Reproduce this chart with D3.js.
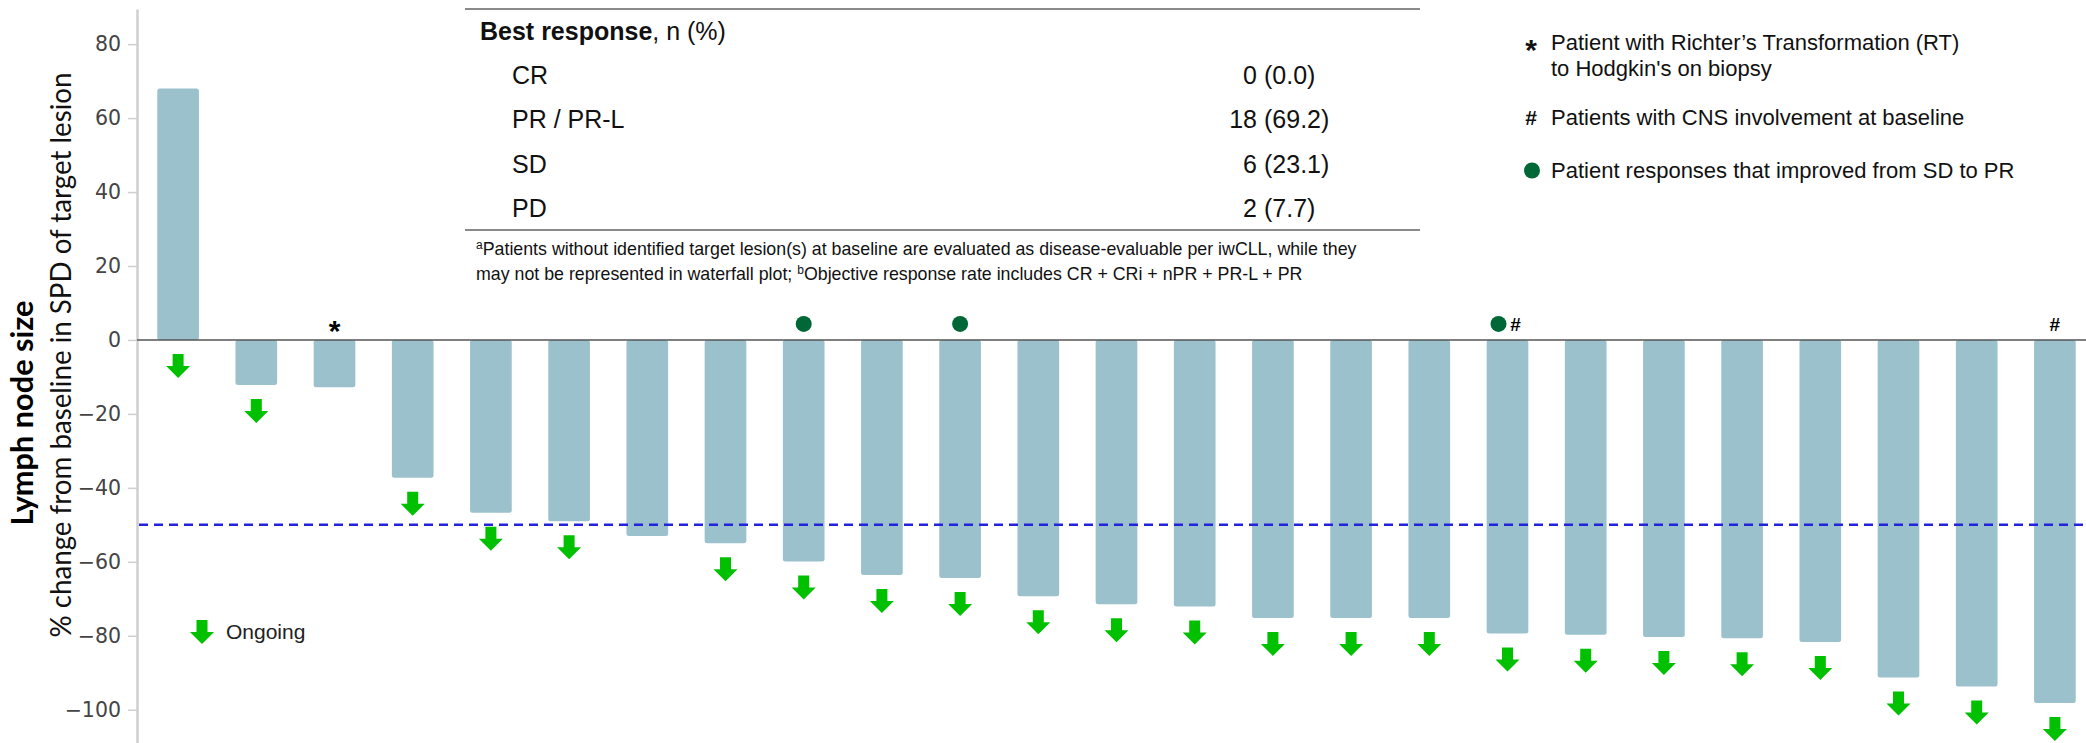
<!DOCTYPE html>
<html>
<head>
<meta charset="utf-8">
<script src="https://cdn.jsdelivr.net/npm/d3@7"></script>
<style>
body { margin: 0; background: #fff; }
svg { display: block; }
</style>
</head>
<body>
<script>
// svg size
var w = 2086, h = 743;

// one bar per patient, sorted as in the waterfall
var patients = ["1", "2", "3", "4", "5", "6", "7", "8", "9", "10", "11", "12", "13",
    "14", "15", "16", "17", "18", "19", "20", "21", "22", "23", "24", "25"];
var changePct = [68.0, -12.2, -12.8, -37.3, -46.7, -49.0, -53.0, -55.0, -59.9, -63.6,
    -64.4, -69.3, -71.5, -72.1, -75.2, -75.2, -75.2, -79.4, -79.7, -80.3,
    -80.7, -81.7, -91.3, -93.7, -98.2];
var ongoing = [1, 1, 0, 1, 1, 1, 0, 1, 1, 1, 1, 1, 1, 1, 1, 1, 1, 1, 1, 1, 1, 1, 1, 1, 1];

// markers above the zero line
var richterPts = ["3"];
var cnsPts = ["18", "25"];
var improvedPts = ["9", "11", "18"];

var yTicks = [80, 60, 40, 20, 0, -20, -40, -60, -80, -100];
var threshold = -50;

// response table
var responseCats = ["CR", "PR / PR-L", "SD", "PD"];
var responseN = [0, 18, 6, 2];
var responsePct = ["0.0", "69.2", "23.1", "7.7"];

var legendItems = [
    {mark: "*", lines: ["Patient with Richter\u2019s Transformation (RT)", "to Hodgkin's on biopsy"]},
    {mark: "#", lines: ["Patients with CNS involvement at baseline"]},
    {mark: "dot", lines: ["Patient responses that improved from SD to PR"]}
];

var bars = patients.map(function(p, i){
    return {id: p, v: changePct[i], ongoing: ongoing[i] === 1};
});

var svg = d3.select("body")
    .append("svg")
    .attr("width", w)
    .attr("height", h);

// scales
var x = d3.scaleBand()
    .domain(patients)
    .range([139, 2094])
    .paddingInner(0.467)
    .paddingOuter(0.2335);

var y = d3.scaleLinear()
    .domain([-109, 89.5])
    .range([743, 9]);

var axisX = 137;

// y axis
var yAxis = svg.append("g")
    .attr("transform", "translate(" + axisX + ",0)")
    .call(d3.axisLeft(y).tickValues(yTicks).tickSize(9).tickPadding(7).tickSizeOuter(0));
yAxis.select(".domain").attr("stroke", "#cfcfcf").attr("stroke-width", 2.5);
yAxis.selectAll(".tick line").attr("stroke", "#cfcfcf").attr("stroke-width", 1.5);
yAxis.selectAll(".tick text")
    .attr("fill", "#444")
    .style("font-family", "'DejaVu Sans', Verdana, sans-serif")
    .style("font-size", "20.5px");

// y axis title
svg.append("text")
    .attr("transform", "translate(33,413) rotate(-90)")
    .attr("text-anchor", "middle")
    .attr("textLength", 225)
    .attr("lengthAdjust", "spacingAndGlyphs")
    .style("font-family", "Lato, 'Open Sans', sans-serif")
    .style("font-weight", "bold")
    .style("font-size", "30px")
    .text("Lymph node size");

svg.append("text")
    .attr("transform", "translate(71,355) rotate(-90)")
    .attr("text-anchor", "middle")
    .attr("textLength", 565)
    .attr("lengthAdjust", "spacingAndGlyphs")
    .style("font-family", "Lato, 'Open Sans', sans-serif")
    .style("font-size", "28px")
    .attr("fill", "#111")
    .text("% change from baseline in SPD of target lesion");

// bars
svg.selectAll(".bar")
    .data(bars)
    .enter()
    .append("rect")
    .attr("class", "bar")
    .attr("x", function(d){ return x(d.id); })
    .attr("width", x.bandwidth())
    .attr("y", function(d){ return Math.min(y(d.v), y(0)); })
    .attr("height", function(d){ return Math.abs(y(d.v) - y(0)); })
    .attr("rx", 2.5)
    .attr("fill", "#9bc2cc");

// zero line
svg.append("line")
    .attr("x1", axisX).attr("x2", w)
    .attr("y1", y(0)).attr("y2", y(0))
    .attr("stroke", "#555")
    .attr("stroke-width", 1.5);

// -50% threshold
svg.append("line")
    .attr("x1", axisX + 2).attr("x2", w)
    .attr("y1", y(threshold)).attr("y2", y(threshold))
    .attr("stroke", "#2323dc")
    .attr("stroke-width", 2.5)
    .attr("stroke-dasharray", "9,6");

// down arrow shape
function arrowPath(cx, top){
    return "M" + (cx - 5.5) + "," + top +
        "L" + (cx + 5.5) + "," + top +
        "L" + (cx + 5.5) + "," + (top + 12) +
        "L" + (cx + 12) + "," + (top + 12) +
        "L" + cx + "," + (top + 24) +
        "L" + (cx - 12) + "," + (top + 12) +
        "L" + (cx - 5.5) + "," + (top + 12) + "Z";
}

svg.selectAll(".ongoing")
    .data(bars.filter(function(d){ return d.ongoing; }))
    .enter()
    .append("path")
    .attr("class", "ongoing")
    .attr("d", function(d){
        return arrowPath(x(d.id) + x.bandwidth() / 2, y(Math.min(d.v, 0)) + 14);
    })
    .attr("fill", "#00c000");

// markers
var markY = y(0) - 16;

svg.selectAll(".rt")
    .data(richterPts)
    .enter()
    .append("text")
    .attr("class", "rt")
    .attr("x", function(d){ return x(d) + x.bandwidth() / 2; })
    .attr("y", markY + 17.5)
    .attr("text-anchor", "middle")
    .style("font-family", "'Liberation Sans', Arial, sans-serif")
    .style("font-weight", "bold")
    .style("font-size", "30px")
    .text("*");

svg.selectAll(".improved")
    .data(improvedPts)
    .enter()
    .append("circle")
    .attr("class", "improved")
    .attr("cx", function(d){
        return x(d) + x.bandwidth() / 2 - (cnsPts.indexOf(d) >= 0 ? 9 : 0);
    })
    .attr("cy", markY)
    .attr("r", 8)
    .attr("fill", "#006837");

svg.selectAll(".cns")
    .data(cnsPts)
    .enter()
    .append("text")
    .attr("class", "cns")
    .attr("x", function(d){
        return x(d) + x.bandwidth() / 2 + (improvedPts.indexOf(d) >= 0 ? 8 : 0);
    })
    .attr("y", markY + 7)
    .attr("text-anchor", "middle")
    .style("font-family", "'Liberation Sans', Arial, sans-serif")
    .style("font-weight", "bold")
    .style("font-size", "19px")
    .text("#");

// ongoing legend
svg.append("path")
    .attr("d", arrowPath(202, 620))
    .attr("fill", "#00c000");
svg.append("text")
    .attr("x", 226)
    .attr("y", 639)
    .attr("fill", "#222")
    .style("font-family", "'Liberation Sans', Arial, sans-serif")
    .style("font-size", "21px")
    .text("Ongoing");

// response table
var table = svg.append("g")
    .style("font-family", "'Liberation Sans', Arial, sans-serif")
    .attr("fill", "#111");

table.selectAll(".rule")
    .data([9, 230])
    .enter()
    .append("line")
    .attr("class", "rule")
    .attr("x1", 465).attr("x2", 1420)
    .attr("y1", function(d){ return d; })
    .attr("y2", function(d){ return d; })
    .attr("stroke", "#8a8a8a")
    .attr("stroke-width", 2);

var head = table.append("text")
    .attr("x", 480)
    .attr("y", 40)
    .style("font-size", "25px");
head.append("tspan").style("font-weight", "bold").text("Best response");
head.append("tspan").text(", n (%)");

var rowY = d3.scalePoint().domain(responseCats).range([84, 217]);

table.selectAll(".cat")
    .data(responseCats)
    .enter()
    .append("text")
    .attr("class", "cat")
    .attr("x", 512)
    .attr("y", function(d){ return rowY(d); })
    .style("font-size", "25px")
    .text(function(d){ return d; });

table.selectAll(".nval")
    .data(responseCats)
    .enter()
    .append("text")
    .attr("class", "nval")
    .attr("x", 1257)
    .attr("y", function(d){ return rowY(d); })
    .attr("text-anchor", "end")
    .style("font-size", "25px")
    .text(function(d, i){ return responseN[i]; });

table.selectAll(".pval")
    .data(responseCats)
    .enter()
    .append("text")
    .attr("class", "pval")
    .attr("x", 1264)
    .attr("y", function(d){ return rowY(d); })
    .style("font-size", "25px")
    .text(function(d, i){ return "(" + responsePct[i] + ")"; });

// footnote
var foot1 = table.append("text").attr("x", 476).attr("y", 255).style("font-size", "17.8px");
foot1.append("tspan").attr("dy", -6).style("font-size", "12px").text("a");
foot1.append("tspan").attr("dy", 6)
    .text("Patients without identified target lesion(s) at baseline are evaluated as disease-evaluable per iwCLL, while they");

var foot2 = table.append("text").attr("x", 476).attr("y", 280).style("font-size", "17.8px");
foot2.append("tspan").text("may not be represented in waterfall plot; ");
foot2.append("tspan").attr("dy", -6).style("font-size", "12px").text("b");
foot2.append("tspan").attr("dy", 6)
    .text("Objective response rate includes CR + CRi + nPR + PR-L + PR");

// marker legend
var legendY = [50, 125, 178];
var legend = svg.append("g")
    .style("font-family", "'Liberation Sans', Arial, sans-serif")
    .attr("fill", "#111");

legendItems.forEach(function(item, i){
    var ly = legendY[i];
    if (item.mark === "dot") {
        legend.append("circle")
            .attr("cx", 1532).attr("cy", ly - 7.5)
            .attr("r", 8).attr("fill", "#006837");
    } else if (item.mark === "*") {
        legend.append("text")
            .attr("x", 1531).attr("y", ly + 10)
            .attr("text-anchor", "middle")
            .style("font-weight", "bold").style("font-size", "30px")
            .text("*");
    } else {
        legend.append("text")
            .attr("x", 1531).attr("y", ly)
            .attr("text-anchor", "middle")
            .style("font-weight", "bold").style("font-size", "21px")
            .text("#");
    }
    item.lines.forEach(function(line, j){
        legend.append("text")
            .attr("x", 1551)
            .attr("y", ly + j * 26)
            .style("font-size", "22px")
            .text(line);
    });
});
</script>
</body>
</html>
